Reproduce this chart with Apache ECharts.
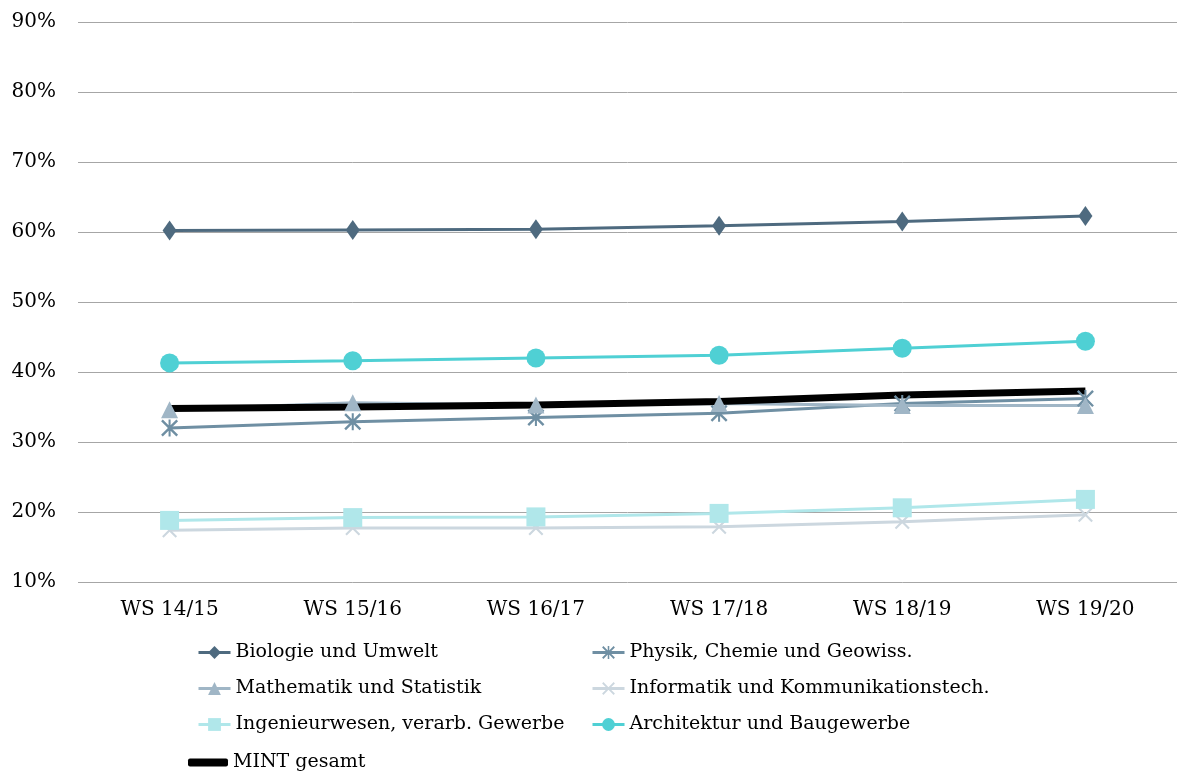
<!DOCTYPE html>
<html>
<head>
<meta charset="utf-8">
<script src="https://cdn.jsdelivr.net/npm/echarts@6/dist/echarts.min.js"></script>
<style>
  html, body { margin: 0; padding: 0; background: #fff; }
  #chart { width: 1177px; height: 772px; }
</style>
</head>
<body>
<div id="chart"></div>
<script>
var semester = ['WS 14/15', 'WS 15/16', 'WS 16/17', 'WS 17/18', 'WS 18/19', 'WS 19/20'];

var biologie = [60.2, 60.3, 60.4, 60.9, 61.5, 62.3];
var physik = [32.0, 32.9, 33.5, 34.1, 35.5, 36.2];
var mathematik = [34.6, 35.6, 35.3, 35.5, 35.2, 35.2];
var informatik = [17.4, 17.7, 17.7, 17.9, 18.6, 19.6];
var ingenieur = [18.8, 19.2, 19.3, 19.8, 20.6, 21.8];
var architektur = [41.3, 41.6, 42.0, 42.4, 43.4, 44.4];
var mint = [34.8, 35.0, 35.3, 35.8, 36.7, 37.3];

var font = 'DejaVu Serif';

// asterisk and x marks as filled paths
var starPath = 'path://M0,1 L1,0 L5,4 L9,0 L10,1 L6,5 L10,9 L9,10 L5,6 L1,10 L0,9 L4,5 Z M4.4,0 L5.6,0 L5.6,10 L4.4,10 Z';
var xPath = 'path://M0,1 L1,0 L5,4 L9,0 L10,1 L6,5 L10,9 L9,10 L5,6 L1,10 L0,9 L4,5 Z';

function line(name, data, color, symbol, size, width) {
    return {
        name: name,
        type: 'line',
        data: data,
        symbol: symbol,
        symbolSize: size,
        showAllSymbol: true,
        itemStyle: { color: color },
        lineStyle: { color: color, width: width },
        emphasis: { disabled: true }
    };
}

function legendBox(left, top, names) {
    return {
        left: left,
        top: top,
        padding: 0,
        orient: 'vertical',
        itemGap: 17,
        itemWidth: 32,
        itemHeight: 16,
        lineStyle: { width: 3 },
        textStyle: { fontFamily: font, fontSize: 19, color: '#000' },
        data: names
    };
}

var chart = echarts.init(document.getElementById('chart'));

var mintLegend = legendBox(188, 753, [{ name: 'MINT gesamt', icon: 'roundRect' }]);
mintLegend.itemHeight = 8;
mintLegend.itemWidth = 40;

chart.setOption({
    animation: false,
    grid: { left: 78, right: -8, top: 22, bottom: 190 },
    legend: [
        legendBox(197, 643, ['Biologie und Umwelt', 'Mathematik und Statistik', 'Ingenieurwesen, verarb. Gewerbe']),
        legendBox(591, 643, ['Physik, Chemie und Geowiss.', 'Informatik und Kommunikationstech.', 'Architektur und Baugewerbe']),
        mintLegend
    ],
    xAxis: {
        type: 'category',
        data: semester,
        axisLine: { show: false },
        axisTick: { show: false },
        axisLabel: { fontFamily: font, fontSize: 20, color: '#000', margin: 18 }
    },
    yAxis: {
        type: 'value',
        min: 10,
        max: 90,
        interval: 10,
        axisLabel: {
            fontFamily: font, fontSize: 20, color: '#000', margin: 22,
            formatter: '{value}%'
        },
        splitLine: { lineStyle: { color: '#a6a6a6', width: 1 } }
    },
    series: [
        line('Biologie und Umwelt', biologie, '#4e6a7f', 'diamond', [14, 20], 3),
        line('Physik, Chemie und Geowiss.', physik, '#6f8fa3', starPath, 17, 3),
        line('Mathematik und Statistik', mathematik, '#a0b6c6', 'triangle', 17, 3),
        line('Informatik und Kommunikationstech.', informatik, '#ccd7df', xPath, 15, 3),
        line('Ingenieurwesen, verarb. Gewerbe', ingenieur, '#b0e7ea', 'rect', 19, 3),
        line('Architektur und Baugewerbe', architektur, '#4fd0d4', 'circle', 19, 3),
        line('MINT gesamt', mint, '#000000', 'none', 1, 7)
    ]
});
</script>
</body>
</html>
